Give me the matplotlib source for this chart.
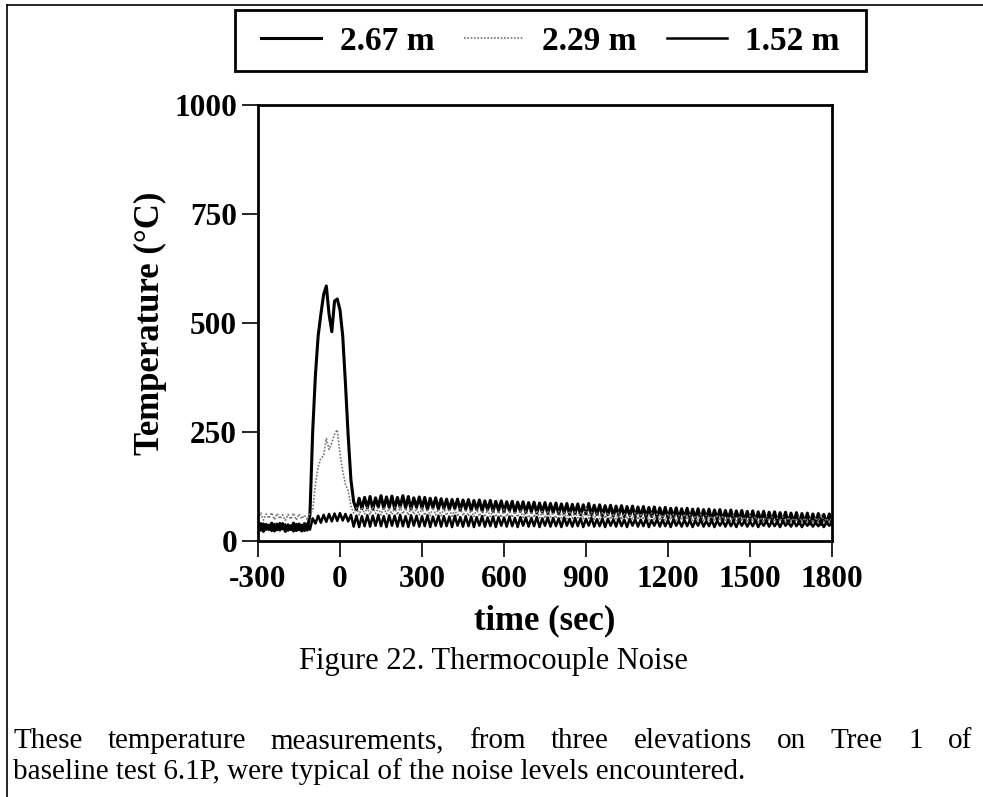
import numpy as np
import matplotlib
matplotlib.use('Agg')
import matplotlib.pyplot as plt
from matplotlib.lines import Line2D
from matplotlib.patches import Rectangle

# sample clock, 10 s steps
time = np.arange(-300, 1801, 10)

# 2.67 m thermocouple
t267 = [24, 40, 22, 38, 26, 41, 23, 39, 25, 40,
        22, 37, 26, 41, 24, 39, 23, 40, 25, 60,
        250, 380, 470, 520, 565, 585, 520, 480, 550, 555,
        530, 470, 360, 240, 140, 90, 72, 98, 74, 100,
        76, 102, 73, 99, 78, 104, 75, 101, 77, 103,
        74, 100, 78, 104, 76, 102, 73, 99, 77, 101,
        75, 100, 72, 98, 76, 99, 73, 97, 74, 96,
        72, 95, 74, 96, 71, 94, 73, 95, 70, 93,
        72, 94, 69, 92, 71, 93, 68, 91, 70, 92,
        67, 90, 69, 91, 66, 89, 68, 90, 65, 88,
        67, 89, 64, 87, 66, 88, 63, 86, 65, 87,
        62, 85, 64, 86, 61, 84, 63, 85, 60, 83,
        62, 86, 59, 82, 61, 83, 58, 81, 60, 82,
        57, 80, 59, 81, 56, 79, 58, 80, 55, 78,
        57, 79, 54, 77, 56, 78, 53, 76, 55, 77,
        52, 75, 54, 76, 51, 74, 53, 75, 50, 73,
        52, 74, 49, 72, 51, 73, 48, 71, 50, 72,
        47, 70, 49, 71, 46, 69, 48, 70, 45, 68,
        47, 69, 44, 67, 46, 68, 43, 66, 45, 67,
        42, 65, 44, 66, 41, 64, 43, 65, 40, 63,
        42, 64, 39, 62, 41, 63, 38, 61, 40, 62,
        40]

# 2.29 m thermocouple
t229 = [50, 64, 48, 62, 52, 65, 49, 63, 51, 60,
        47, 61, 50, 64, 48, 62, 51, 59, 49, 63,
        70, 130, 170, 190, 195, 235, 210, 225, 245, 255,
        200, 160, 130, 115, 80, 64, 76, 60, 78, 62,
        77, 61, 79, 63, 76, 60, 78, 62, 75, 61,
        77, 60, 79, 62, 76, 59, 78, 61, 75, 60,
        76, 59, 74, 58, 77, 60, 73, 58, 75, 59,
        74, 57, 72, 56, 75, 58, 73, 57, 71, 56,
        73, 57, 70, 55, 72, 56, 71, 55, 69, 54,
        72, 56, 70, 54, 68, 55, 71, 54, 69, 53,
        67, 54, 70, 53, 68, 52, 69, 54, 66, 52,
        68, 53, 66, 51, 69, 52, 67, 53, 65, 51,
        78, 52, 66, 50, 64, 51, 67, 52, 65, 50,
        63, 51, 66, 49, 64, 50, 62, 51, 65, 49,
        63, 50, 61, 48, 64, 49, 62, 50, 60, 48,
        63, 49, 61, 47, 59, 48, 62, 49, 60, 47,
        58, 48, 61, 46, 59, 47, 57, 48, 60, 46,
        58, 47, 56, 45, 59, 46, 57, 47, 55, 45,
        58, 46, 56, 44, 54, 45, 57, 46, 55, 44,
        53, 45, 56, 43, 54, 44, 52, 45, 55, 43,
        53, 44, 51, 42, 54, 43, 62, 44, 52, 42,
        55]

# 1.52 m thermocouple
t152 = [38, 24, 40, 26, 37, 23, 39, 25, 41, 27,
        38, 24, 36, 22, 39, 25, 37, 23, 40, 26,
        52, 40, 58, 42, 60, 44, 62, 45, 63, 46,
        64, 47, 62, 45, 60, 33, 58, 32, 57, 34,
        59, 33, 58, 35, 60, 34, 57, 32, 59, 35,
        58, 33, 60, 34, 57, 32, 59, 35, 58, 33,
        57, 34, 59, 32, 56, 35, 58, 33, 57, 34,
        56, 32, 58, 35, 55, 33, 57, 34, 56, 32,
        55, 35, 57, 33, 54, 34, 56, 32, 55, 35,
        54, 33, 56, 34, 53, 32, 55, 35, 54, 33,
        53, 34, 55, 32, 52, 35, 54, 33, 53, 34,
        52, 32, 54, 35, 51, 33, 53, 34, 52, 32,
        51, 35, 53, 33, 50, 34, 52, 32, 51, 35,
        50, 33, 52, 34, 49, 32, 51, 35, 50, 33,
        49, 34, 51, 32, 48, 35, 50, 33, 49, 34,
        48, 32, 50, 35, 47, 33, 49, 34, 48, 32,
        47, 35, 49, 33, 46, 34, 48, 32, 47, 35,
        46, 33, 48, 34, 45, 32, 47, 35, 46, 33,
        45, 34, 47, 32, 44, 35, 46, 33, 45, 34,
        44, 32, 46, 35, 43, 33, 45, 34, 44, 32,
        43, 35, 45, 33, 42, 34, 44, 32, 43, 35,
        42]

xticks = [-300, 0, 300, 600, 900, 1200, 1500, 1800]
yticks = [0, 250, 500, 750, 1000]

plt.rcParams['axes.unicode_minus'] = False

W, H = 983, 797
fig = plt.figure(figsize=(W / 100, H / 100), dpi=100)
ax = fig.add_axes([258 / W, 1 - 541 / H, (832 - 258) / W, (541 - 105) / H])

serif = ['Liberation Serif', 'DejaVu Serif']

l1, = ax.plot(time, t267, color='black', lw=2.2, label='2.67 m')
l2, = ax.plot(time, t229, color='0.45', lw=1.2, ls=(0, (1, 1)), label='2.29 m')
l3, = ax.plot(time, t152, color='black', lw=1.8, label='1.52 m')

ax.set_xlim(-300, 1800)
ax.set_ylim(0, 1000)
ax.set_xticks(xticks)
ax.set_yticks(yticks)
for s in ax.spines.values():
    s.set_linewidth(2)
ax.tick_params(direction='out', length=11.5, width=1.2, labelsize=22.5)
ax.tick_params(axis='x', pad=6)
ax.tick_params(axis='y', pad=3.5)
for lab in ax.get_xticklabels() + ax.get_yticklabels():
    lab.set_family(serif)
    lab.set_fontweight('bold')

ax.set_xlabel('time (sec)', family=serif, fontweight='bold', fontsize=25, labelpad=7)
ax.set_ylabel('Temperature (°C)', family=serif, fontweight='bold', fontsize=25, labelpad=5)

# legend on top, frame drawn as its own box
leg = fig.legend(handles=[l1, l2, l3], loc='center', ncol=3,
                 bbox_to_anchor=(550.5 / W, 1 - 41 / H),
                 prop={'family': serif, 'weight': 'bold', 'size': 24},
                 handlelength=1.8, handletextpad=0.55, columnspacing=0.9,
                 borderpad=0.3, frameon=False)
fig.add_artist(Rectangle((235 / W, 1 - 71 / H), (866 - 235) / W, 61 / H,
                         transform=fig.transFigure, fill=False,
                         edgecolor='black', lw=2))

# page border lines (scan edges)
fig.add_artist(Line2D([7 / W, 7 / W], [0, 1 - 5 / H], color='black', lw=1.2))
fig.add_artist(Line2D([7 / W, 1], [1 - 5 / H, 1 - 5 / H], color='black', lw=1.2))

# caption
fig.text(493 / W, 1 - 662 / H, 'Figure 22. Thermocouple Noise', family=serif,
         fontsize=22, ha='center', va='center')

# paragraph, first line justified
renderer = fig.canvas.get_renderer()
line1 = 'These temperature measurements, from three elevations on Tree 1 of'
words = line1.split()
x0, x1 = 13, 972
texts = [fig.text(0, 1 - 748 / H, w, family=serif, fontsize=21, va='baseline') for w in words]
widths = [t.get_window_extent(renderer).width for t in texts]
gap = (x1 - x0 - sum(widths)) / (len(words) - 1)
x = x0
for t, w in zip(texts, widths):
    t.set_x(x / W)
    x += w + gap
fig.text(x0 / W, 1 - 779 / H, 'baseline test 6.1P, were typical of the noise levels encountered.',
         family=serif, fontsize=21, va='baseline')

fig.savefig('out.png', dpi=100)
